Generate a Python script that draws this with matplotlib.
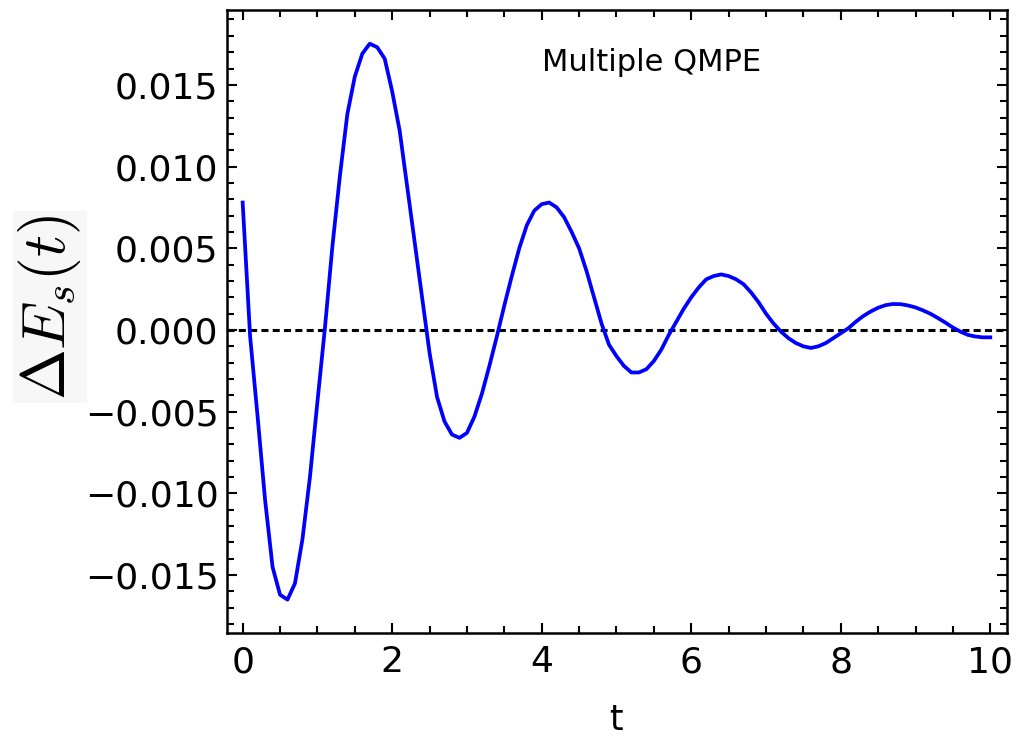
import numpy as np
import matplotlib
matplotlib.use("Agg")
import matplotlib.pyplot as plt
from matplotlib.ticker import MultipleLocator, FuncFormatter

# ******************************
## Data
# ******************************
t = [0.0, 0.1, 0.2, 0.3, 0.4, 0.5, 0.6, 0.7, 0.8, 0.9,
     1.0, 1.1, 1.2, 1.3, 1.4, 1.5, 1.6, 1.7, 1.8, 1.9,
     2.0, 2.1, 2.2, 2.3, 2.4, 2.5, 2.6, 2.7, 2.8, 2.9,
     3.0, 3.1, 3.2, 3.3, 3.4, 3.5, 3.6, 3.7, 3.8, 3.9,
     4.0, 4.1, 4.2, 4.3, 4.4, 4.5, 4.6, 4.7, 4.8, 4.9,
     5.0, 5.1, 5.2, 5.3, 5.4, 5.5, 5.6, 5.7, 5.8, 5.9,
     6.0, 6.1, 6.2, 6.3, 6.4, 6.5, 6.6, 6.7, 6.8, 6.9,
     7.0, 7.1, 7.2, 7.3, 7.4, 7.5, 7.6, 7.7, 7.8, 7.9,
     8.0, 8.1, 8.2, 8.3, 8.4, 8.5, 8.6, 8.7, 8.8, 8.9,
     9.0, 9.1, 9.2, 9.3, 9.4, 9.5, 9.6, 9.7, 9.8, 9.9, 10.0]

dE = [0.0078, -0.0004, -0.0053, -0.0104, -0.0145, -0.0162, -0.0165, -0.0155, -0.0128, -0.0090,
      -0.0044, 0.0001, 0.0051, 0.0094, 0.0132, 0.0155, 0.0169, 0.01752, 0.0173, 0.0166,
      0.0146, 0.0122, 0.0088, 0.0054, 0.0020, -0.0014, -0.0041, -0.0056, -0.0064, -0.0066,
      -0.0063, -0.0053, -0.0039, -0.0022, -0.0004, 0.0015, 0.0033, 0.0050, 0.0064, 0.0073,
      0.0077, 0.0078, 0.0075, 0.0069, 0.0060, 0.0050, 0.0036, 0.0020, 0.0004, -0.0009,
      -0.0016, -0.0022, -0.0026, -0.0026, -0.0024, -0.0019, -0.0012, -0.0003, 0.0005, 0.0013,
      0.0020, 0.0026, 0.0031, 0.0033, 0.0034, 0.0033, 0.0031, 0.0028, 0.0023, 0.0017,
      0.0010, 0.0004, -0.0001, -0.0005, -0.0008, -0.0010, -0.0011, -0.0010, -0.0008, -0.0005,
      -0.0002, 0.0001, 0.0005, 0.00085, 0.00113, 0.00136, 0.00152, 0.00159, 0.00158, 0.0015,
      0.00138, 0.0012, 0.00099, 0.00073, 0.00045, 0.00015, -0.0001, -0.0003, -0.0004, -0.00045, -0.00045]

x_ticks = [0, 2, 4, 6, 8, 10]
y_ticks = [-0.015, -0.010, -0.005, 0.000, 0.005, 0.010, 0.015]

# ******************************
## Canvas Configuration
# ******************************
plt.rcParams['mathtext.fontset'] = 'cm'
fig = plt.figure(figsize=(10.2, 7.36), dpi=100)
ax = fig.add_axes([0.2225, 0.140, 0.7645, 0.8464])

ax.axhline(0, color='black', lw=2.2, dashes=(2.3, 1.4))
ax.plot(t, dE, color='#0000ff', lw=2.7)

ax.set_xlim(-0.21, 10.22)
ax.set_ylim(-0.01854, 0.01958)
ax.set_xticks(x_ticks)
ax.set_yticks(y_ticks)
ax.xaxis.set_minor_locator(MultipleLocator(0.5))
ax.yaxis.set_minor_locator(MultipleLocator(0.001))
ax.yaxis.set_major_formatter(FuncFormatter(
    lambda v, p: ('%.3f' % v).replace('-', '\u2212') if abs(v) > 1e-9 else '0.000'))
ax.tick_params(which='both', direction='in', top=True, right=True,
               width=1.5, color='black')
ax.tick_params(which='major', length=7, labelsize=26)
ax.tick_params(which='minor', length=5)
ax.tick_params(axis='x', pad=9)
ax.tick_params(axis='y', pad=6)
for s in ax.spines.values():
    s.set_linewidth(1.8)

ax.text(0.545, 0.915, 'Multiple QMPE', transform=ax.transAxes,
        fontsize=22, ha='center', va='center')

fig.text(50/1020, 1 - 307/736, r'$\Delta E_s(t)$', rotation=90,
         fontsize=44, ha='center', va='center',
         bbox=dict(facecolor='#f7f7f7', edgecolor='none', pad=2))
fig.text(616/1020, 1 - 703/736, 't', fontsize=25, ha='center', va='top')

fig.savefig('out.png', dpi=100)
